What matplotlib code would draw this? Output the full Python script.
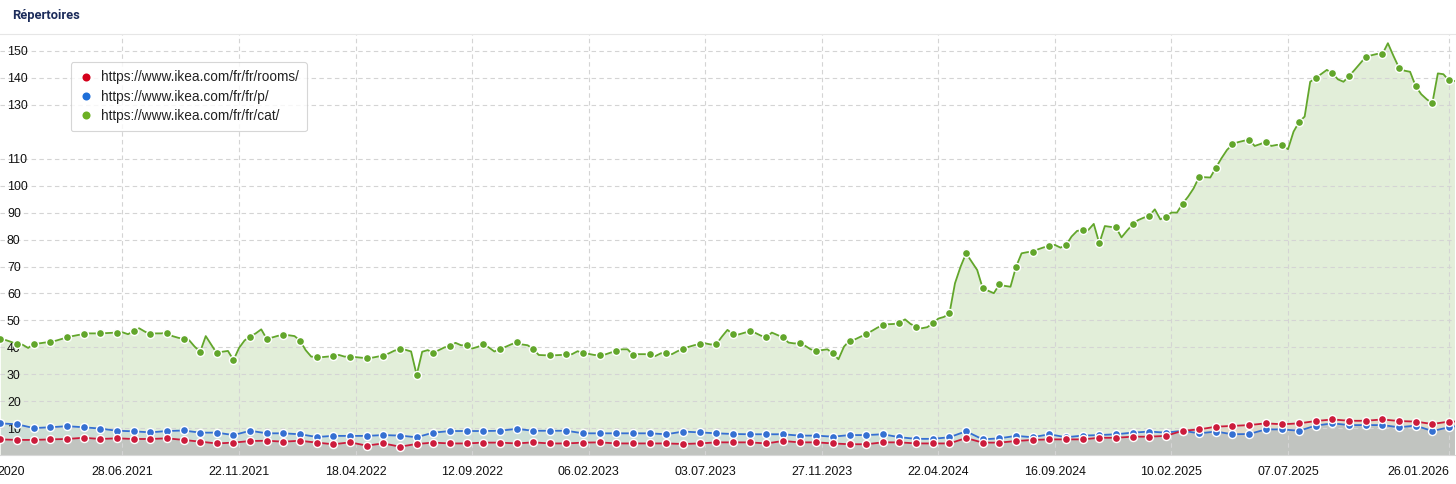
"""Répertoires: visibility of three ikea.com/fr/fr directories, weekly."""

import matplotlib
matplotlib.use("Agg")
import matplotlib.pyplot as plt
from matplotlib.lines import Line2D
import numpy as np
import pandas as pd

# weekly values for /cat/ (Monday 25.01.2021 .. 02.02.2026)
cat_values = [
    43.0, 42.7, 42.0, 41.2, 41.0, 39.8, 41.3, 41.5, 41.8, 42.0,
    42.5, 43.1, 43.7, 44.2, 44.6, 44.9, 45.2, 45.2, 45.2, 45.3,
    45.4, 45.5, 45.6, 44.9, 46.1, 47.1, 45.9, 44.9, 45.2, 45.2,
    45.5, 44.2, 43.6, 43.1, 42.7, 40.3, 38.4, 44.2, 41.0, 37.8,
    38.4, 38.7, 35.3, 39.8, 42.6, 44.0, 45.2, 46.7, 43.1, 43.7,
    44.3, 44.5, 44.5, 44.2, 42.5, 39.0, 36.6, 36.4, 36.4, 36.6,
    36.8, 37.2, 36.6, 36.6, 36.4, 36.2, 36.0, 36.2, 36.6, 37.0,
    37.8, 38.8, 39.3, 39.1, 38.5, 29.8, 38.4, 39.0, 38.0, 39.0,
    40.0, 40.5, 41.7, 40.8, 40.8, 39.6, 40.2, 41.2, 40.0, 38.5,
    39.4, 40.2, 41.1, 41.9, 41.1, 40.8, 39.4, 37.2, 37.1, 37.1,
    37.1, 37.2, 37.4, 37.5, 38.6, 37.8, 37.6, 37.2, 37.1, 37.4,
    38.1, 38.7, 39.3, 39.3, 37.2, 37.5, 37.5, 37.4, 36.8, 37.8,
    38.0, 37.5, 38.6, 39.4, 40.2, 40.8, 41.3, 41.5, 41.1, 41.2,
    44.0, 46.5, 44.9, 44.8, 45.4, 46.0, 45.4, 44.4, 43.7, 45.5,
    44.6, 43.7, 41.8, 41.5, 41.5, 40.6, 39.3, 38.8, 39.0, 39.3,
    37.8, 35.6, 40.3, 42.5, 43.0, 44.0, 44.9, 46.1, 47.3, 48.3,
    48.6, 48.7, 49.2, 50.4, 48.7, 47.7, 47.1, 47.5, 48.9, 50.7,
    51.3, 52.6, 63.8, 69.9, 74.9, 71.8, 68.7, 61.9, 61.0, 60.1,
    63.4, 62.8, 62.5, 69.9, 74.9, 75.3, 75.5, 76.4, 77.1, 77.6,
    78.0, 77.0, 77.9, 81.1, 83.2, 83.5, 83.5, 85.8, 78.6, 85.0,
    84.7, 84.5, 80.8, 83.3, 85.6, 87.2, 88.1, 88.8, 91.2, 87.5,
    88.5, 90.0, 90.0, 93.3, 95.9, 99.0, 103.3, 103.1, 103.0, 106.6,
    110.1, 113.2, 115.3, 116.1, 116.6, 117.0, 114.7, 115.4, 116.3, 114.7,
    115.1, 114.9, 113.5, 120.0, 123.6, 125.6, 138.5, 139.9, 141.4, 142.9,
    141.6, 139.4, 138.5, 140.6, 142.9, 145.3, 147.7, 148.3, 148.8, 148.7,
    152.8, 148.1, 143.7, 142.6, 142.2, 136.9, 133.9, 132.0, 130.5, 141.6,
    141.3, 139.0, 138.8,
]

# every third week (+ last week) for /p/ and /rooms/
p_values = [
    11.85, 11.5, 10.1, 10.4, 10.8, 10.4, 9.9, 9.1, 8.9, 8.5,
    9.0, 9.2, 8.4, 8.4, 7.5, 9.1, 8.15, 8.15, 7.8, 6.8,
    7.2, 7.2, 7.2, 7.5, 7.3, 6.7, 8.4, 9.0, 9.0, 9.0,
    9.1, 9.8, 9.1, 9.1, 9.1, 8.15, 8.15, 8.15, 8.15, 8.15,
    7.8, 8.8, 8.5, 8.15, 7.9, 7.8, 7.8, 7.8, 7.3, 7.3,
    6.9, 7.5, 7.5, 7.8, 6.7, 6.1, 6.1, 6.7, 8.9, 5.9,
    6.3, 7.2, 6.7, 7.8, 6.7, 7.3, 7.5, 7.8, 8.4, 8.8,
    8.4, 9.1, 8.15, 8.8, 7.8, 7.9, 9.6, 9.6, 9.1, 11.0,
    11.85, 11.2, 11.2, 11.2, 10.4, 11.0, 9.0, 10.4,
    10.7,
]
rooms_values = [
    5.9, 5.7, 5.7, 5.9, 6.05, 6.5, 6.05, 6.3, 6.05, 6.05,
    6.3, 5.7, 5.05, 4.4, 4.7, 5.3, 5.4, 5.05, 5.4, 4.7,
    4.1, 4.8, 3.6, 4.4, 3.2, 4.2, 4.7, 4.4, 4.4, 4.7,
    4.7, 4.4, 4.8, 4.4, 4.4, 4.7, 4.8, 4.4, 4.4, 4.4,
    4.4, 4.2, 4.4, 4.8, 4.8, 4.8, 4.4, 5.3, 4.8, 4.8,
    4.4, 4.1, 4.1, 4.8, 4.8, 4.4, 4.4, 4.4, 6.4, 4.7,
    4.7, 5.3, 5.7, 5.9, 5.9, 5.9, 6.5, 6.5, 6.9, 6.9,
    7.2, 9.1, 9.6, 10.6, 10.9, 11.2, 11.85, 11.5, 11.85, 12.7,
    13.3, 12.8, 12.8, 13.3, 12.7, 12.5, 11.6, 12.5,
    12.5,
]

series_labels = [
    "https://www.ikea.com/fr/fr/rooms/",
    "https://www.ikea.com/fr/fr/p/",
    "https://www.ikea.com/fr/fr/cat/",
]
tick_dates = [
    "28.06.2021", "22.11.2021", "18.04.2022", "12.09.2022", "06.02.2023",
    "03.07.2023", "27.11.2023", "22.04.2024", "16.09.2024", "10.02.2025",
    "07.07.2025", "26.01.2026",
]
first_label = "2020"  # only the year of the leftmost date shows in the crop
y_ticks = [10, 20, 30, 40, 50, 60, 70, 80, 90, 100, 110, 130, 140, 150]

RED, BLUE, GREEN = "#cc1c3c", "#3570d2", "#62a62b"
FONT = "Liberation Sans"
TXT = "#111111"

weeks = pd.date_range("2021-01-25", periods=len(cat_values), freq="7D")
dot_dates = weeks[::3].append(weeks[-1:])

W, H = 1456, 484
fig = plt.figure(figsize=(W / 100, H / 100), dpi=100)
fig.patch.set_facecolor("white")
ax = fig.add_axes([0, (H - 455.3) / H, 1454.5 / W, (455.3 - 34) / H])

cat = np.array(cat_values)
p = np.array(p_values)
rooms = np.array(rooms_values)

ax.fill_between(weeks, 0, cat, color="#e2eed9", lw=0, zorder=1)
ax.fill_between(dot_dates, 0, p, color="#cddfd6", lw=0, zorder=1)
ax.fill_between(dot_dates, 0, rooms, color="#e1dac6", lw=0, zorder=1)
ax.fill_between(dot_dates, 0, np.minimum(p, rooms), color="#c1c4c0", lw=0, zorder=1)

mk = dict(marker="o", markersize=5.8, markeredgecolor="white", markeredgewidth=1.0)
n = len(dot_dates)
ax.plot(weeks, cat, color=GREEN, lw=1.3, markerfacecolor=GREEN,
        markevery=list(range(0, len(weeks) - 1, 3)), zorder=3, **mk)
ax.plot(dot_dates, p, color=BLUE, lw=1.3, markerfacecolor=BLUE,
        markevery=list(range(n - 1)), zorder=4, **mk)
ax.plot(dot_dates, rooms, color=RED, lw=1.3, markerfacecolor=RED,
        markevery=list(range(n - 1)), zorder=5, **mk)

ax.set_xlim(weeks[0] - pd.Timedelta(hours=12), weeks[-1])
ax.set_ylim(0, (455.3 - 34) / 2.697)

ax.set_xticks(pd.to_datetime(tick_dates, format="%d.%m.%Y"))
ax.set_xticklabels(tick_dates, fontsize=8.9, family=FONT, color=TXT)
ax.get_xticklabels()[-1].set_horizontalalignment("right")
ax.set_yticks(y_ticks)
ax.set_yticklabels([str(v) for v in y_ticks], fontsize=8.9, family=FONT, color=TXT)
ax.tick_params(axis="x", length=0, pad=8)
ax.tick_params(axis="y", length=0, pad=-5)
for lab in ax.get_yticklabels():
    lab.set_horizontalalignment("left")

ax.set_axisbelow("line")
ax.grid(True, color="#d4d4d4", linestyle=(0, (4, 3)), linewidth=0.8)

for side in ("left", "right"):
    ax.spines[side].set_visible(False)
ax.spines["top"].set_color("#e6e6e6")
ax.spines["bottom"].set_color("#d8d8d8")
ax.set_facecolor("white")

fig.text(25 / W, ax.get_position().y0 - 10.5 / H, first_label, ha="right", va="top",
         fontsize=8.9, family=FONT, color=TXT)

fig.text(12 / W, 1 - 19 / H, "Répertoires", ha="left", va="baseline",
         fontsize=9.3, fontweight="bold", family="Roboto", color="#1c2c5b")

handles = [
    Line2D([], [], ls="", marker="o", markersize=5.8, color=c, markeredgewidth=0)
    for c in ("#d4001b", "#1f6fd8", "#6cb023")
]
leg = ax.legend(handles, series_labels, loc="upper left",
                bbox_to_anchor=(70.7 / W, 1 - 62.3 / H), bbox_transform=fig.transFigure,
                prop={"family": FONT, "size": 9.8}, frameon=True, fancybox=True,
                borderpad=0.6, labelspacing=0.39, handlelength=1.0,
                handletextpad=0.62, borderaxespad=0)
leg.get_frame().set_edgecolor("#cccccc")
leg.get_frame().set_linewidth(0.8)
leg.set_zorder(10)
for t in leg.get_texts():
    t.set_color("#222222")

fig.savefig("out.png", dpi=100)
